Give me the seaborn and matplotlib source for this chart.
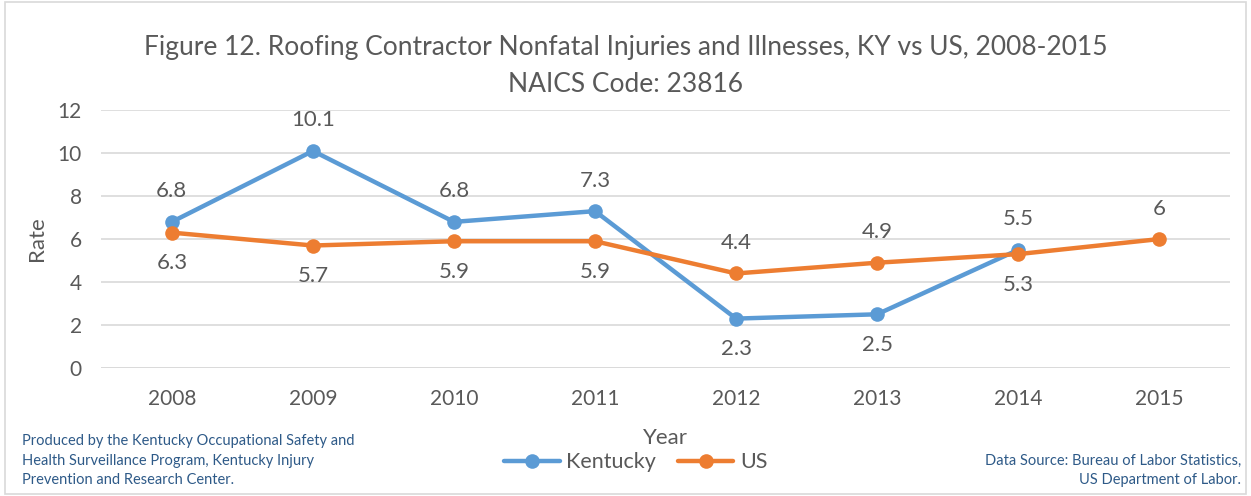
import numpy as np
import pandas as pd
import matplotlib.pyplot as plt
import seaborn as sns
from matplotlib.patches import Rectangle

years = ["2008", "2009", "2010", "2011", "2012", "2013", "2014", "2015"]
kentucky = [6.8, 10.1, 6.8, 7.3, 2.3, 2.5, 5.5, np.nan]
us = [6.3, 5.7, 5.9, 5.9, 4.4, 4.9, 5.3, 6.0]
y_ticks = [0, 2, 4, 6, 8, 10, 12]

title = "Figure 12. Roofing Contractor Nonfatal Injuries and Illnesses, KY vs US, 2008-2015\nNAICS Code: 23816"
note_left = ("Produced by the Kentucky Occupational Safety and\n"
             "Health Surveillance Program, Kentucky Injury\n"
             "Prevention and Research Center.")
note_right = "Data Source: Bureau of Labor Statistics,\nUS Department of Labor."

sns.set_theme(style="white")
plt.rcParams['font.family'] = ['Lato', 'DejaVu Sans']

colors = {"Kentucky": "#5B9BD5", "US": "#ED7D31"}
text_col = "#595959"

df = pd.DataFrame({
    "Year": years * 2,
    "Rate": kentucky + us,
    "Series": ["Kentucky"] * len(years) + ["US"] * len(years),
})

fig = plt.figure(figsize=(12.51, 4.96), dpi=100)
ax = fig.add_axes([0.081, 0.258, 0.902, 0.520])

sns.lineplot(data=df, x="Year", y="Rate", hue="Series", palette=colors,
             marker="o", markersize=10.5, markeredgewidth=0, linewidth=3.2,
             sort=False, ax=ax, legend=False)

# data labels: higher value above the point, lower value below
for i, yr in enumerate(years):
    k, u = kentucky[i], us[i]
    if np.isnan(k):
        pairs = [(u, 1)]
    elif k >= u:
        pairs = [(k, 1), (u, -1)]
    else:
        pairs = [(k, -1), (u, 1)]
    for v, d in pairs:
        lab = f"{v:g}"
        ax.annotate(lab, (i, v), xytext=(0, 22 * d), textcoords="offset points",
                    ha="center", va="center", fontsize=16, color=text_col)

ax.set_xlim(-0.5, len(years) - 0.5)
ax.set_ylim(0, 12)
ax.set_yticks(y_ticks)
ax.yaxis.grid(True, color="#D9D9D9", linewidth=1.2)
ax.xaxis.grid(False)
for s in ax.spines.values():
    s.set_visible(False)
ax.axhline(0, color="#D9D9D9", linewidth=1.2, zorder=0)
ax.tick_params(axis="both", labelsize=15, labelcolor=text_col, length=0)
ax.tick_params(axis="x", pad=15)
ax.tick_params(axis="y", pad=14)
ax.set_xlabel("Year", fontsize=16, color=text_col, labelpad=14)
ax.set_ylabel("Rate", fontsize=16, color=text_col, labelpad=8)

fig.text(0.5, 0.867, title, fontsize=19, color=text_col, ha="center",
         va="center", linespacing=1.62)

handles = [plt.Line2D([], [], color=colors[s], marker="o", markersize=10.5,
                      markeredgewidth=0, linewidth=3.2) for s in ["Kentucky", "US"]]
fig.legend(handles, ["Kentucky", "US"], loc="center", bbox_to_anchor=(0.508, 0.068),
           ncol=2, frameon=False, fontsize=15.5, labelcolor=text_col,
           handlelength=2.6, columnspacing=1.0, handletextpad=0.3)

fig.text(0.0176, 0.071, note_left, fontsize=10.5, color="#2E5A88", va="center",
         ha="left", linespacing=1.5)
fig.text(0.992, 0.052, note_right, fontsize=10.5, color="#2E5A88", va="center",
         ha="right", multialignment="right", linespacing=1.5)

fig.patches.append(Rectangle((0.004, 0.004), 0.992, 0.992, transform=fig.transFigure,
                             fill=False, edgecolor="#D9D9D9", linewidth=1.2))

fig.savefig("out.png", dpi=100)
